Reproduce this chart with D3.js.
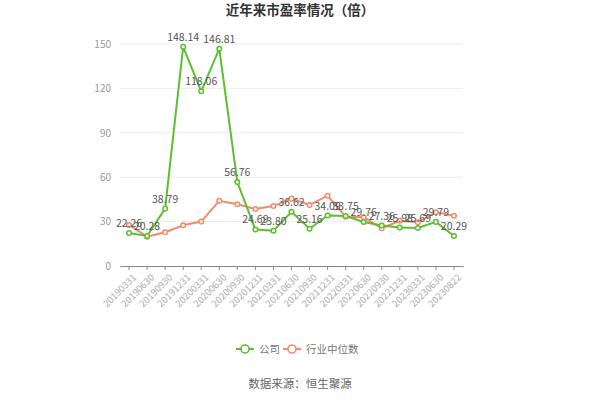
<!DOCTYPE html>
<html><head><meta charset="utf-8">
<script src="https://cdn.jsdelivr.net/npm/d3@7"></script>
<style>body{margin:0;background:#fff}svg{display:block}</style>
</head><body>
<svg id="c" width="600" height="400"></svg>
<script>
const categories = ["20190331","20190630","20190930","20191231","20200331","20200630","20200930","20201231","20210331","20210630","20210930","20211231","20220331","20220630","20220930","20221231","20230331","20230630","20230822"];
const companyValues = [22.26,20.28,38.79,148.14,118.06,146.81,56.76,24.69,23.80,36.62,25.16,34.09,33.75,29.76,27.36,25.98,25.69,29.79,20.29];
const industryValues = [27.7,19.8,22.8,27.5,30.0,44.1,41.7,38.5,40.5,45.5,41.2,47.5,33.3,32.9,25.5,30.6,29.5,36.3,34.0];
const yTicks = [0,30,60,90,120,150];
const seriesNames = ["公司","行业中位数"];
const title = "近年来市盈率情况（倍）";
const source = "数据来源：恒生聚源";

const green = "#5ac02f", orange = "#f38b68";
const font = "'Noto Sans CJK SC','Noto Sans',sans-serif";
const svg = d3.select("#c");
const L = 120, R = 463, T = 44, B = 266;
const x = d3.scaleBand().domain(categories).range([L, R]);
const y = d3.scaleLinear().domain([0,150]).range([B, T]);
const cx = d => x(d) + x.bandwidth()/2;

svg.append("text").attr("x",300).attr("y",15).attr("text-anchor","middle")
  .attr("font-family",font).attr("font-size",13.5).attr("font-weight","bold").attr("fill","#333").text(title);

// grid
svg.append("g").selectAll("line").data(yTicks.filter(t=>t>0)).join("line")
  .attr("x1",L).attr("x2",R).attr("y1",d=>y(d)).attr("y2",d=>y(d))
  .attr("stroke","#ececec").attr("stroke-width",1);

const yAxis = svg.append("g").attr("transform",`translate(${L},0)`)
  .call(d3.axisLeft(y).tickValues(yTicks).tickSize(0).tickPadding(9));
yAxis.select(".domain").remove();
yAxis.selectAll("text").attr("font-family",font).attr("font-size",10).attr("fill","#999");

const xAxis = svg.append("g").attr("transform",`translate(0,${B})`)
  .call(d3.axisBottom(x).tickSize(4).tickSizeOuter(0));
xAxis.select(".domain").attr("stroke","#888");
xAxis.selectAll(".tick line").attr("stroke","#888");
xAxis.selectAll("text").attr("font-family",font).attr("font-size",9.5).attr("fill","#aaa")
  .attr("text-anchor","end").attr("dy",0).attr("transform","translate(3,7) rotate(-45)");

const line = d3.line().x((d,i)=>cx(categories[i])).y(d=>y(d));

function series(vals,color){
  svg.append("path").datum(vals).attr("d",line).attr("fill","none").attr("stroke",color).attr("stroke-width",2);
  svg.append("g").selectAll("circle").data(vals).join("circle")
    .attr("cx",(d,i)=>cx(categories[i])).attr("cy",d=>y(d)).attr("r",2.3)
    .attr("fill","#fff").attr("stroke",color).attr("stroke-width",1.5);
}
series(industryValues, orange);
series(companyValues, green);

svg.append("g").selectAll("text").data(companyValues).join("text")
  .attr("x",(d,i)=>cx(categories[i])).attr("y",d=>y(d)-6).attr("text-anchor","middle")
  .attr("font-family",font).attr("font-size",10.5).attr("fill","#555").text(d=>d.toFixed(2));

// legend
const lg = [{n:seriesNames[0],c:green,x:236},{n:seriesNames[1],c:orange,x:283}];
const lgG = svg.append("g").selectAll("g").data(lg).join("g");
lgG.append("line").attr("x1",d=>d.x).attr("x2",d=>d.x+18).attr("y1",349).attr("y2",349).attr("stroke",d=>d.c).attr("stroke-width",2);
lgG.append("circle").attr("cx",d=>d.x+9).attr("cy",349).attr("r",4).attr("fill","#fff").attr("stroke",d=>d.c).attr("stroke-width",1.6);
lgG.append("text").attr("x",d=>d.x+23).attr("y",353).attr("font-family",font).attr("font-size",10.5).attr("fill","#777").text(d=>d.n);

svg.append("text").attr("x",300).attr("y",388).attr("text-anchor","middle")
  .attr("font-family",font).attr("font-size",11.5).attr("fill","#666").text(source);
</script>
</body></html>
